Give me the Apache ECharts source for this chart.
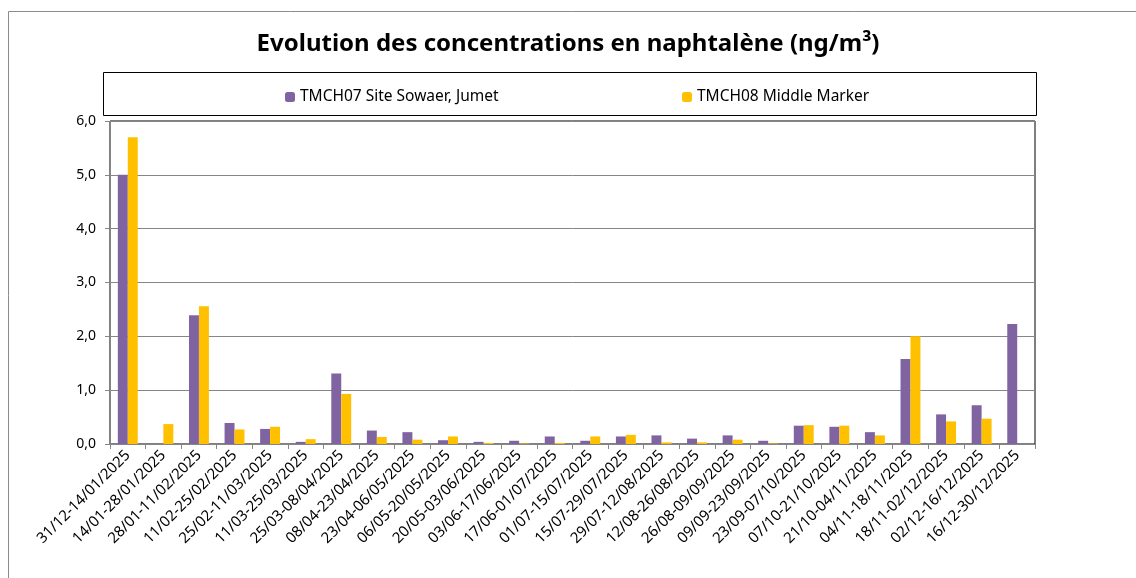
<!DOCTYPE html>
<html>
<head>
<meta charset="utf-8">
<script src="https://cdn.jsdelivr.net/npm/echarts@6/dist/echarts.min.js"></script>
<style>
  html, body { margin: 0; padding: 0; background: #fff; }
  #chart { width: 1136px; height: 578px; }
</style>
</head>
<body>
<div id="chart"></div>
<script>
// périodes de prélèvement
const periods = [
  '31/12-14/01/2025', '14/01-28/01/2025', '28/01-11/02/2025', '11/02-25/02/2025',
  '25/02-11/03/2025', '11/03-25/03/2025', '25/03-08/04/2025', '08/04-23/04/2025',
  '23/04-06/05/2025', '06/05-20/05/2025', '20/05-03/06/2025', '03/06-17/06/2025',
  '17/06-01/07/2025', '01/07-15/07/2025', '15/07-29/07/2025', '29/07-12/08/2025',
  '12/08-26/08/2025', '26/08-09/09/2025', '09/09-23/09/2025', '23/09-07/10/2025',
  '07/10-21/10/2025', '21/10-04/11/2025', '04/11-18/11/2025', '18/11-02/12/2025',
  '02/12-16/12/2025', '16/12-30/12/2025'
]

const seriesNames = ['TMCH07 Site Sowaer, Jumet', 'TMCH08 Middle Marker']

// concentrations (ng/m³)
const tmch07 = [5.0, null, 2.39, 0.39, 0.28, 0.04, 1.31, 0.25, 0.22, 0.07, 0.04, 0.06, 0.14,
  0.06, 0.14, 0.16, 0.10, 0.16, 0.06, 0.34, 0.32, 0.22, 1.58, 0.55, 0.72, 2.23]
const tmch08 = [5.70, 0.37, 2.56, 0.27, 0.32, 0.09, 0.93, 0.13, 0.08, 0.14, 0.02, 0.01, 0.02,
  0.14, 0.17, 0.03, 0.03, 0.08, 0.01, 0.35, 0.34, 0.16, 2.0, 0.42, 0.47, null]

const yTicks = { min: 0, max: 6, interval: 1 }

const font = 'Noto Sans'
const chart = echarts.init(document.getElementById('chart'))

const option = {
  animation: false,
  textStyle: { fontFamily: font },
  title: {
    text: 'Evolution des concentrations en naphtalène (ng/m³)',
    left: 'center',
    top: 27,
    textStyle: { fontSize: 24, fontWeight: 'bold', color: '#000', fontFamily: font }
  },
  graphic: [
    // cadre du graphique
    { type: 'rect', shape: { x: 8.5, y: 11.5, width: 1140, height: 600 },
      style: { fill: 'none', stroke: '#8c8c8c', lineWidth: 1 }, silent: true },
    // cadre de la légende
    { type: 'rect', shape: { x: 103.5, y: 72.5, width: 933, height: 43 },
      style: { fill: 'none', stroke: '#000', lineWidth: 1 }, silent: true }
  ],
  legend: [
    { data: [seriesNames[0]], left: 280, top: 84, itemWidth: 10, itemHeight: 10, itemGap: 4,
      textStyle: { fontSize: 15.5, color: '#000', fontFamily: font } },
    { data: [seriesNames[1]], left: 677, top: 84, itemWidth: 10, itemHeight: 10, itemGap: 4,
      textStyle: { fontSize: 15.5, color: '#000', fontFamily: font } }
  ],
  grid: {
    left: 110, right: 101, top: 121, bottom: 134,
    show: true, borderColor: '#000', borderWidth: 1
  },
  xAxis: {
    type: 'category',
    data: periods,
    axisLine: { lineStyle: { color: '#868686' } },
    axisTick: { show: true, length: 5, lineStyle: { color: '#868686' } },
    axisLabel: {
      rotate: 45, interval: 0, fontSize: 15, color: '#000', margin: 9,
      fontFamily: '"Liberation Sans Narrow", "Noto Sans"'
    }
  },
  yAxis: {
    type: 'value',
    min: yTicks.min, max: yTicks.max, interval: yTicks.interval,
    axisLine: { show: true, lineStyle: { color: '#868686' } },
    axisTick: { show: true, length: 5, lineStyle: { color: '#868686' } },
    splitLine: { lineStyle: { color: '#868686', width: 1 } },
    axisLabel: {
      fontSize: 14, color: '#000', margin: 14,
      formatter: v => v.toFixed(1).replace('.', ',')
    }
  },
  series: [
    { name: seriesNames[0], type: 'bar', data: tmch07, barGap: '0%', barCategoryGap: '44%',
      itemStyle: { color: '#8064a2' } },
    { name: seriesNames[1], type: 'bar', data: tmch08, barGap: '0%', barCategoryGap: '44%',
      itemStyle: { color: '#ffc000' } }
  ]
}

chart.setOption(option)
</script>
</body>
</html>
